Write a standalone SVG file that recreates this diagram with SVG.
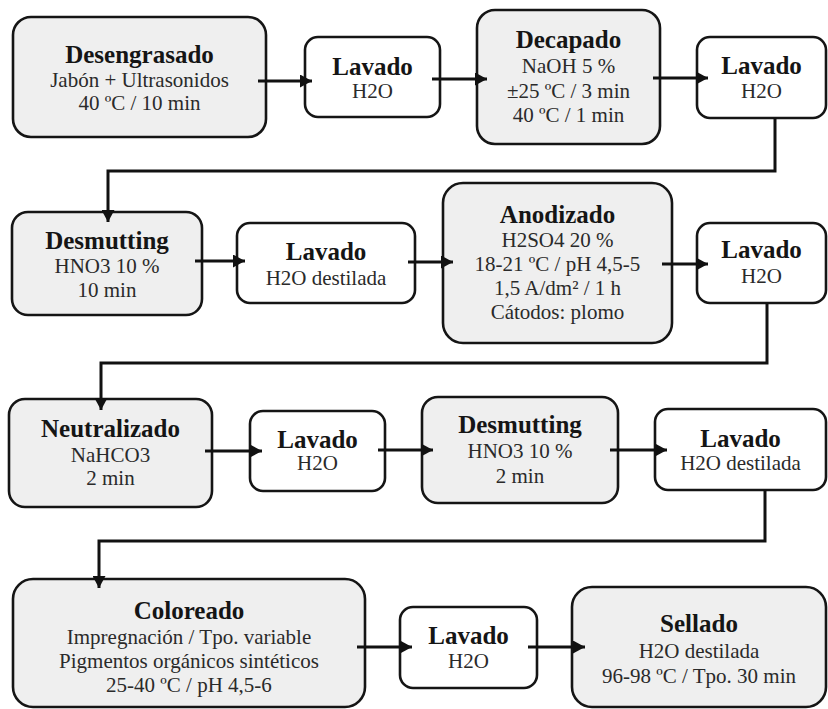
<svg xmlns="http://www.w3.org/2000/svg" width="828" height="709" viewBox="0 0 828 709">
<defs>
<style>
.g{fill:#efefef;stroke:#151515;stroke-width:2.6}
.w{fill:#ffffff;stroke:#151515;stroke-width:2.6}
text{font-family:"Liberation Serif","Times New Roman",serif;text-anchor:middle}
.t{font-size:25px;font-weight:bold;fill:#151515}
.s{font-size:21px;fill:#2a2a2a}
.c{fill:none;stroke:#111;stroke-width:3;marker-end:url(#ah)}
</style>
<marker id="ah" markerUnits="userSpaceOnUse" markerWidth="13" markerHeight="13" refX="12" refY="6.5" orient="auto">
<path d="M0,0 L12,6.5 L0,13 z" fill="#111"/>
</marker>
</defs>
<rect width="828" height="709" fill="#ffffff"/>
<g id="desengrasado">
<rect class="g" x="13" y="17" width="253" height="120" rx="18"/>
<text class="t" x="139.5" y="63">Desengrasado</text>
<text class="s" x="139.5" y="87">Jabón + Ultrasonidos</text>
<text class="s" x="139.5" y="110">40 ºC / 10 min</text>
</g>
<g id="lavado1">
<rect class="w" x="305" y="37" width="135" height="80" rx="13"/>
<text class="t" x="372.5" y="75">Lavado</text>
<text class="s" x="372.5" y="98">H2O</text>
</g>
<g id="decapado">
<rect class="g" x="477" y="10" width="183" height="134" rx="18"/>
<text class="t" x="568.5" y="48">Decapado</text>
<text class="s" x="568.5" y="73">NaOH 5 %</text>
<text class="s" x="568.5" y="98">±25 ºC / 3 min</text>
<text class="s" x="568.5" y="122">40 ºC / 1 min</text>
</g>
<g id="lavado2">
<rect class="w" x="697" y="37" width="129" height="81" rx="13"/>
<text class="t" x="761.5" y="74">Lavado</text>
<text class="s" x="761.5" y="98">H2O</text>
</g>
<g id="desmutting1">
<rect class="g" x="12" y="212" width="190" height="103" rx="16"/>
<text class="t" x="107" y="249">Desmutting</text>
<text class="s" x="107" y="273">HNO3 10 %</text>
<text class="s" x="107" y="297">10 min</text>
</g>
<g id="lavado3">
<rect class="w" x="237" y="223" width="178" height="80" rx="13"/>
<text class="t" x="326" y="260">Lavado</text>
<text class="s" x="326" y="285">H2O destilada</text>
</g>
<g id="anodizado">
<rect class="g" x="443" y="183" width="229" height="160" rx="20"/>
<text class="t" x="557.5" y="223">Anodizado</text>
<text class="s" x="557.5" y="247">H2SO4 20 %</text>
<text class="s" x="557.5" y="271">18-21 ºC / pH 4,5-5</text>
<text class="s" x="557.5" y="295">1,5 A/dm² / 1 h</text>
<text class="s" x="557.5" y="319">Cátodos: plomo</text>
</g>
<g id="lavado4">
<rect class="w" x="697" y="223" width="129" height="80" rx="13"/>
<text class="t" x="761.5" y="258">Lavado</text>
<text class="s" x="761.5" y="283">H2O</text>
</g>
<g id="neutralizado">
<rect class="g" x="9" y="399" width="203" height="108" rx="16"/>
<text class="t" x="110.5" y="437">Neutralizado</text>
<text class="s" x="110.5" y="462">NaHCO3</text>
<text class="s" x="110.5" y="485">2 min</text>
</g>
<g id="lavado5">
<rect class="w" x="250" y="411" width="135" height="80" rx="13"/>
<text class="t" x="317.5" y="448">Lavado</text>
<text class="s" x="317.5" y="470">H2O</text>
</g>
<g id="desmutting2">
<rect class="g" x="422" y="397" width="196" height="106" rx="16"/>
<text class="t" x="520" y="433">Desmutting</text>
<text class="s" x="520" y="458">HNO3 10 %</text>
<text class="s" x="520" y="483">2 min</text>
</g>
<g id="lavado6">
<rect class="w" x="655" y="409" width="171" height="81" rx="13"/>
<text class="t" x="740.5" y="447">Lavado</text>
<text class="s" x="740.5" y="470">H2O destilada</text>
</g>
<g id="coloreado">
<rect class="g" x="13" y="579" width="352" height="128" rx="20"/>
<text class="t" x="189" y="619">Coloreado</text>
<text class="s" x="189" y="644">Impregnación / Tpo. variable</text>
<text class="s" x="189" y="668">Pigmentos orgánicos sintéticos</text>
<text class="s" x="189" y="692">25-40 ºC / pH 4,5-6</text>
</g>
<g id="lavado7">
<rect class="w" x="400" y="607" width="137" height="81" rx="13"/>
<text class="t" x="468.5" y="644">Lavado</text>
<text class="s" x="468.5" y="668">H2O</text>
</g>
<g id="sellado">
<rect class="g" x="572" y="587" width="254" height="120" rx="20"/>
<text class="t" x="699" y="632">Sellado</text>
<text class="s" x="699" y="658">H2O destilada</text>
<text class="s" x="699" y="683">96-98 ºC / Tpo. 30 min</text>
</g>
<g id="connectors">
<path class="c" d="M258,81 H312"/>
<path class="c" d="M432,79 H487"/>
<path class="c" d="M653,78 H708"/>
<path class="c" d="M775,118 V171 H108 V222"/>
<path class="c" d="M195,261 H245"/>
<path class="c" d="M408,262 H453"/>
<path class="c" d="M662,264 H708"/>
<path class="c" d="M767,303 V363 H101 V410"/>
<path class="c" d="M205,451 H262"/>
<path class="c" d="M378,450 H433"/>
<path class="c" d="M610,450 H667"/>
<path class="c" d="M765,490 V541 H99 V588"/>
<path class="c" d="M357,647 H412"/>
<path class="c" d="M528,647 H585"/>
</g>
</svg>
